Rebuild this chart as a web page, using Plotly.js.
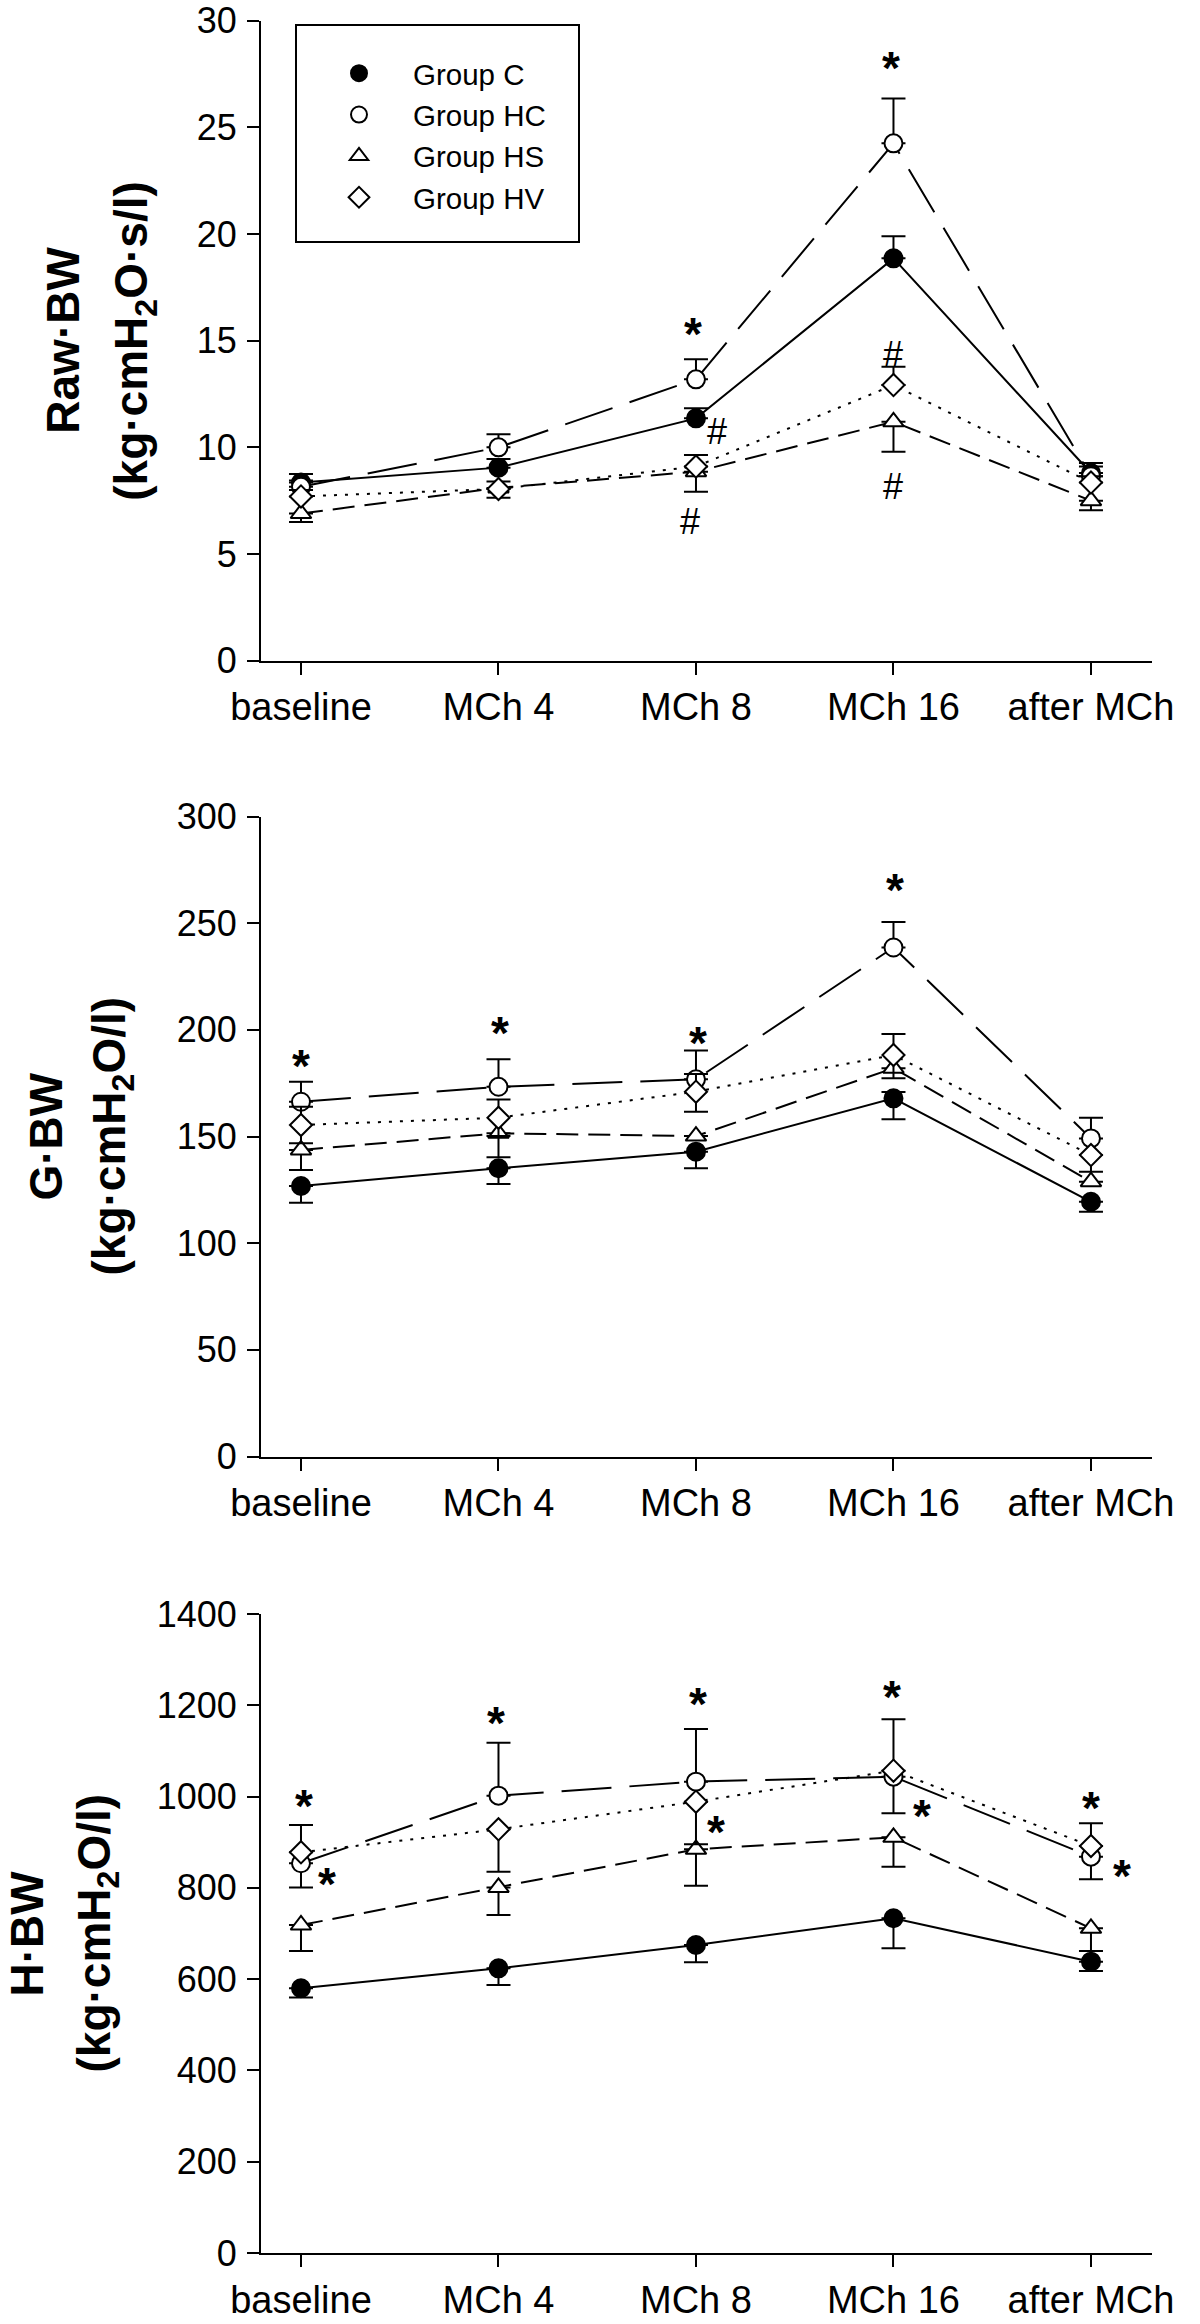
<!DOCTYPE html>
<html><head><meta charset="utf-8">
<script src="https://cdn.plot.ly/plotly-3.0.1.min.js"></script>
<style>html,body{margin:0;padding:0;background:#fff}</style>
</head><body><div id="chart" style="width:1200px;height:2324px"></div>
<script>
// ---------- data ----------
const categories = ['baseline', 'MCh 4', 'MCh 8', 'MCh 16', 'after MCh'];
const groups = ['Group C', 'Group HC', 'Group HS', 'Group HV'];

// Panel 1: Raw·BW
const raw_C = [8.35, 9.05, 11.36, 18.86, 8.8];
const raw_C_up = [0.4, 0.4, 0.47, 1.04, 0.47];
const raw_C_dn = [0, 0, 0, 0, 0];
const raw_HC = [8.15, 10.0, 13.19, 24.25, 8.65];
const raw_HC_up = [0.3, 0.62, 0.94, 2.1, 0.45];
const raw_HC_dn = [0, 0, 0, 0, 0];
const raw_HS = [6.9, 8.1, 8.86, 11.2, 7.5];
const raw_HS_up = [0, 0, 0, 0, 0];
const raw_HS_dn = [0.4, 0.46, 0.94, 1.4, 0.45];
const raw_HV = [7.7, 8.05, 9.1, 12.92, 8.35];
const raw_HV_up = [0.3, 0.35, 0.54, 0.86, 0.3];
const raw_HV_dn = [0, 0, 0, 0, 0];
const raw_sigCat = ['MCh 8', 'MCh 16', 'MCh 8', 'MCh 8', 'MCh 16', 'MCh 16'];
const raw_sigVal = [15.74, 28.2, 10.74, 6.52, 14.33, 8.16];
const raw_sigText = ['*', '*', '#', '#', '#', '#'];

// Panel 2: G·BW
const g_C = [126.8, 135.1, 142.9, 167.9, 119.4];
const g_C_up = [0, 0, 0, 3, 0];
const g_C_dn = [7.8, 7.4, 7.8, 9.8, 4.7];
const g_HC = [166.3, 173.3, 176.8, 238.6, 149.1];
const g_HC_up = [9.4, 12.9, 13.5, 11.9, 9.7];
const g_HC_dn = [0, 0, 0, 0, 0];
const g_HS = [143.7, 151.5, 150.2, 182.0, 128.8];
const g_HS_up = [0, 0, 0, 0, 0];
const g_HS_dn = [9.4, 11.2, 0, 0, 0];
const g_HV = [155.4, 158.8, 171.0, 188.2, 141.3];
const g_HV_up = [8.6, 8.6, 8.3, 9.8, 0];
const g_HV_dn = [8.6, 8.6, 9.4, 10.9, 7.8];
const g_sigCat = ['baseline', 'MCh 4', 'MCh 8', 'MCh 16'];
const g_sigVal = [187.3, 202.7, 198.0, 269.8];
const g_sigText = ['*', '*', '*', '*'];

// Panel 3: H·BW
const h_C = [580, 623.7, 674.8, 733.3, 638.3];
const h_C_up = [0, 0, 0, 0, 0];
const h_C_dn = [20, 36.7, 37.9, 65.7, 20.4];
const h_HC = [853.8, 1002, 1032.7, 1043.6, 868.3];
const h_HC_up = [0, 116, 115.3, 0, 0];
const h_HC_dn = [52.8, 0, 0, 80.2, 49.6];
const h_HS = [718.6, 801, 884.5, 910.8, 711.4];
const h_HS_up = [0, 0, 0, 0, 0];
const h_HS_dn = [56.9, 60.5, 79.7, 64.4, 49.7];
const h_HV = [877.9, 928.3, 988.8, 1056.7, 891.7];
const h_HV_up = [59.8, 0, 0, 112.6, 49.8];
const h_HV_dn = [0, 92.8, 93.4, 0, 0];
const h_sigCat = ['baseline', 'baseline', 'MCh 4', 'MCh 8', 'MCh 8', 'MCh 16', 'MCh 16', 'after MCh', 'after MCh'];
const h_sigVal = [1000, 828, 1182, 1222.6, 941.5, 1237, 978, 994, 846];
const h_sigText = ['*', '*', '*', '*', '*', '*', '*', '*', '*'];

// tick labels
const rawTicks = [0, 5, 10, 15, 20, 25, 30];
const gTicks = [0, 50, 100, 150, 200, 250, 300];
const hTicks = [0, 200, 400, 600, 800, 1000, 1200, 1400];

// axis titles (two lines each)
const rawTitle = ['Raw·BW', '(kg·cmH<sub>2</sub>O·s/l)'];
const gTitle = ['G·BW', '(kg·cmH<sub>2</sub>O/l)'];
const hTitle = ['H·BW', '(kg·cmH<sub>2</sub>O/l)'];

// ---------- styles ----------
const FONT = 'Liberation Sans, Arial, Helvetica, sans-serif';
const style = {
  'Group C':  {symbol: 'circle',      fill: '#000', size: 18, dash: 'solid'},
  'Group HC': {symbol: 'circle',      fill: '#fff', size: 18, dash: '50px,18px'},
  'Group HS': {symbol: 'triangle-up', fill: '#fff', size: 18, dash: '22px,10px'},
  'Group HV': {symbol: 'diamond',     fill: '#fff', size: 17, dash: '3px,8px'}
};
// annotation pixel nudges (styling only)
const raw_sigDx = [-3, -2, 21, -6, 0, 0];
const g_sigDx = [0, 2, 2, 2];
const h_sigDx = [3, 26, -2, 2, 20, -1, 29, 0, 31];

const H = 2324, PL = 261, PW = 891;
const dom = (topPx, botPx) => [1 - botPx / H, 1 - topPx / H];
const panelPx = [[20.7, 660.7], [816.5, 1456.5], [1614, 2253]];
const titleXpx = [[63, 135], [45, 112], [26, 97]];

const panels = [
  {ax: '', title: rawTitle, means: [raw_C, raw_HC, raw_HS, raw_HV], up: [raw_C_up, raw_HC_up, raw_HS_up, raw_HV_up],
   dn: [raw_C_dn, raw_HC_dn, raw_HS_dn, raw_HV_dn], sigCat: raw_sigCat, sigVal: raw_sigVal, sigText: raw_sigText, sigDx: raw_sigDx},
  {ax: '2', title: gTitle, means: [g_C, g_HC, g_HS, g_HV], up: [g_C_up, g_HC_up, g_HS_up, g_HV_up],
   dn: [g_C_dn, g_HC_dn, g_HS_dn, g_HV_dn], sigCat: g_sigCat, sigVal: g_sigVal, sigText: g_sigText, sigDx: g_sigDx},
  {ax: '3', title: hTitle, means: [h_C, h_HC, h_HS, h_HV], up: [h_C_up, h_HC_up, h_HS_up, h_HV_up],
   dn: [h_C_dn, h_HC_dn, h_HS_dn, h_HV_dn], sigCat: h_sigCat, sigVal: h_sigVal, sigText: h_sigText, sigDx: h_sigDx}
];

const traces = [];
const annotations = [];
panels.forEach((p, pi) => {
  groups.forEach((g, i) => {
    const s = style[g];
    traces.push({
      type: 'scatter', mode: 'lines+markers', name: g, showlegend: false,
      x: categories, y: p.means[i], xaxis: 'x' + p.ax, yaxis: 'y' + p.ax,
      line: {color: '#000', width: 2, dash: s.dash},
      marker: {symbol: s.symbol, size: s.size, color: s.fill, line: {color: '#000', width: 2}},
      error_y: {type: 'data', symmetric: false, array: p.up[i], arrayminus: p.dn[i],
                color: '#000', thickness: 2, width: 12},
      cliponaxis: false
    });
  });
  p.sigText.forEach((t, k) => {
    const star = t === '*';
    annotations.push({
      xref: 'x' + p.ax, yref: 'y' + p.ax, x: p.sigCat[k], y: p.sigVal[k],
      text: t, showarrow: false, xanchor: 'center', yanchor: 'middle',
      xshift: p.sigDx[k], yshift: star ? -9 : 0,
      font: {family: FONT, size: star ? 46 : 36, color: '#000', weight: star ? 'bold' : 'normal'}
    });
  });
  // y-axis title, two rotated bold lines
  const midY = 1 - (panelPx[pi][0] + panelPx[pi][1]) / 2 / H;
  p.title.forEach((line, li) => {
    annotations.push({
      xref: 'paper', yref: 'paper', x: (titleXpx[pi][li] - PL) / PW, y: midY,
      text: '<b>' + line + '</b>', textangle: -90, showarrow: false,
      xanchor: 'center', yanchor: 'middle',
      font: {family: FONT, size: 46, color: '#000'}
    });
  });
});
// legend-only entries (markers only)
groups.forEach(g => {
  const s = style[g];
  traces.push({
    type: 'scatter', mode: 'markers', name: g, x: [null], y: [null], xaxis: 'x', yaxis: 'y',
    marker: {symbol: s.symbol, size: s.size, color: s.fill, line: {color: '#000', width: 2}}
  });
});

const xBase = {
  type: 'category', categoryorder: 'array', categoryarray: categories,
  range: [-0.2025, 4.309], showgrid: false, zeroline: false,
  showline: true, linecolor: '#000', linewidth: 2,
  ticks: 'outside', ticklen: 12, tickwidth: 2, tickcolor: '#000',
  tickfont: {family: FONT, size: 38, color: '#000'}, fixedrange: true
};
const yBase = {
  showgrid: false, zeroline: false, showline: true, linecolor: '#000', linewidth: 2,
  ticks: 'outside', ticklen: 12, tickwidth: 2, tickcolor: '#000', ticklabelstandoff: 3,
  tickfont: {family: FONT, size: 36, color: '#000'}, fixedrange: true
};

const layout = {
  width: 1200, height: H, margin: {l: PL, r: 1200 - PL - PW, t: 0, b: 0},
  paper_bgcolor: '#fff', plot_bgcolor: '#fff',
  font: {family: FONT, color: '#000'},
  showlegend: true,
  legend: {x: (305 - PL) / PW, y: 1 - 47.5 / H, xanchor: 'left', yanchor: 'top',
           bgcolor: 'rgba(0,0,0,0)', borderwidth: 0, itemwidth: 98,
           font: {family: FONT, size: 29.5, color: '#000'}},
  xaxis: Object.assign({}, xBase, {anchor: 'y', domain: [0, 1]}),
  xaxis2: Object.assign({}, xBase, {anchor: 'y2', domain: [0, 1]}),
  xaxis3: Object.assign({}, xBase, {anchor: 'y3', domain: [0, 1]}),
  yaxis: Object.assign({}, yBase, {anchor: 'x', domain: dom(...panelPx[0]), range: [0, 30], tickvals: rawTicks}),
  yaxis2: Object.assign({}, yBase, {anchor: 'x2', domain: dom(...panelPx[1]), range: [0, 300], tickvals: gTicks}),
  yaxis3: Object.assign({}, yBase, {anchor: 'x3', domain: dom(...panelPx[2]), range: [0, 1400], tickvals: hTicks}),
  shapes: [{type: 'rect', xref: 'paper', yref: 'paper',
            x0: (296 - PL) / PW, x1: (579 - PL) / PW, y0: 1 - 242 / H, y1: 1 - 25 / H,
            line: {color: '#000', width: 2}, fillcolor: 'rgba(0,0,0,0)'}],
  annotations: annotations
};

Plotly.newPlot('chart', traces, layout, {staticPlot: true, displayModeBar: false});
</script></body></html>
